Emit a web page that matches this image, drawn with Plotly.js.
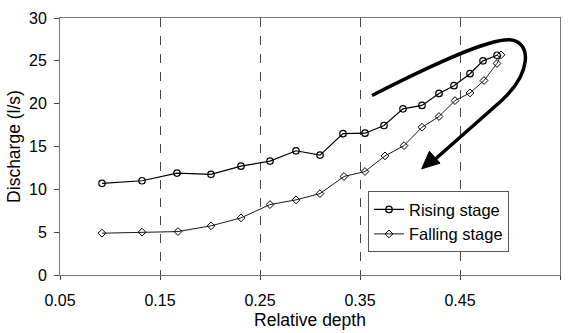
<!DOCTYPE html>
<html>
<head>
<meta charset="utf-8">
<script src="https://cdn.plot.ly/plotly-3.0.1.min.js"></script>
<style>html,body{margin:0;padding:0;background:#fff;}#chart{width:573px;height:333px;}</style>
</head>
<body>
<div id="chart"></div>
<script>
const risingDepth = [0.092, 0.132, 0.167, 0.201, 0.231, 0.260, 0.286, 0.310, 0.333, 0.355, 0.374, 0.393, 0.412, 0.429, 0.444, 0.460, 0.473, 0.487];
const risingQ     = [10.7, 11.0, 11.9, 11.75, 12.7, 13.3, 14.5, 14.0, 16.5, 16.55, 17.45, 19.4, 19.8, 21.2, 22.1, 23.5, 25.0, 25.65];
const fallingDepth = [0.491, 0.487, 0.474, 0.460, 0.445, 0.429, 0.412, 0.394, 0.375, 0.355, 0.334, 0.310, 0.286, 0.260, 0.231, 0.201, 0.168, 0.132, 0.092];
const fallingQ     = [25.7, 24.7, 22.7, 21.25, 20.36, 18.5, 17.25, 15.1, 13.9, 12.08, 11.5, 9.5, 8.77, 8.22, 6.67, 5.74, 5.07, 5.0, 4.88];
const xTicks = [0.05, 0.15, 0.25, 0.35, 0.45, 0.55];
const yTicks = [0, 5, 10, 15, 20, 25, 30];

const fam = 'Liberation Sans, Arial, sans-serif';
const tickFont = {family: fam, size: 16, color: '#000'};
const titleFont = {family: fam, size: 17.5, color: '#000'};

const traces = [
  {x: risingDepth, y: risingQ, name: 'Rising stage', mode: 'lines+markers', type: 'scatter',
   line: {color: '#000', width: 1.2},
   marker: {symbol: 'circle-open', size: 6.5, color: '#000', line: {width: 1.2}}},
  {x: fallingDepth, y: fallingQ, name: 'Falling stage', mode: 'lines+markers', type: 'scatter',
   line: {color: '#000', width: 0.9},
   marker: {symbol: 'diamond-open', size: 6, color: '#000', line: {width: 1}}}
];

const layout = {
  width: 573, height: 333,
  margin: {l: 60, r: 13, t: 18, b: 57.5},
  paper_bgcolor: '#fff', plot_bgcolor: '#fff',
  font: tickFont,
  showlegend: true,
  legend: {x: 0.616, y: 0.326, xanchor: 'left', yanchor: 'top', bgcolor: '#fff',
           bordercolor: '#555', borderwidth: 1, font: {family: fam, size: 16.5, color: '#000'},
           tracegroupgap: 0, itemwidth: 30},
  xaxis: {range: [0.05, 0.55], tickvals: xTicks, ticktext: xTicks.map(v => v.toFixed(2)),
          showgrid: true, gridcolor: '#444', griddash: 'dash', gridwidth: 1,
          showline: true, linecolor: '#777', linewidth: 1, mirror: true,
          ticks: 'outside', ticklen: 4, tickcolor: '#444', zeroline: false,
          tickfont: tickFont, ticklabelstandoff: 7,
          title: {text: 'Relative depth', font: titleFont, standoff: 5}},
  yaxis: {range: [0, 30], tickvals: yTicks, showgrid: false,
          showline: true, linecolor: '#777', linewidth: 1, mirror: true,
          ticks: 'outside', ticklen: 5, tickcolor: '#444', zeroline: false,
          tickfont: tickFont, ticklabelstandoff: 4,
          title: {text: 'Discharge (l/s)', font: titleFont, standoff: 3}},
  shapes: [
    {type: 'path', xref: 'x', yref: 'y',
     path: 'M0.362,20.95 C0.43,25 0.48,27.6 0.5,27.45 C0.522,27.25 0.522,23.5 0.49,20.2 L0.424,13.4',
     line: {color: '#000', width: 3.5}},
    {type: 'path', xref: 'x', yref: 'y',
     path: 'M0.4117,12.39 L0.4194,14.45 L0.43,13.05 Z',
     fillcolor: '#000', line: {color: '#000', width: 1}}
  ]
};

Plotly.newPlot('chart', traces, layout, {staticPlot: true, displayModeBar: false});
</script>
</body>
</html>
